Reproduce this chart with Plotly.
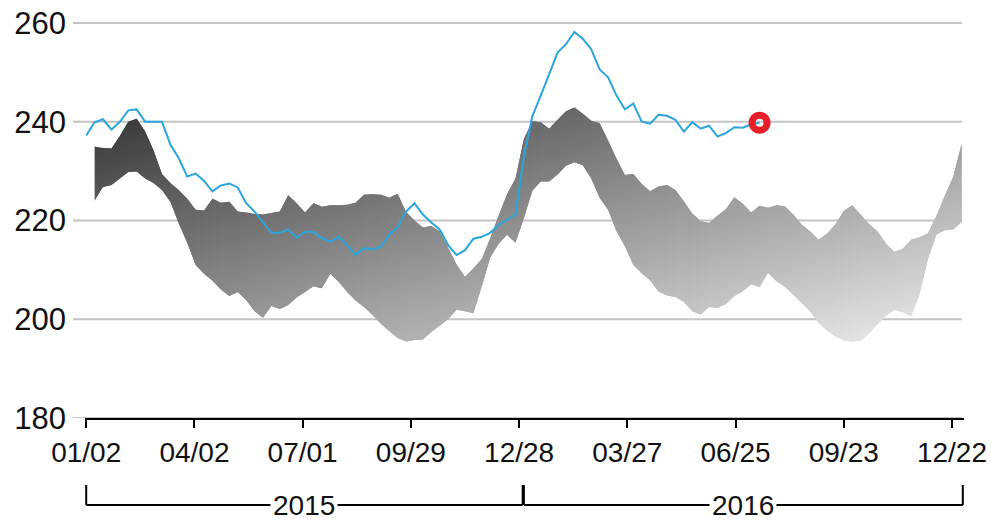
import pandas as pd
import plotly.graph_objects as go

# ---------------- data ----------------
first_week = "2015-01-02"
n_weeks = 105
week_dates = pd.date_range(first_week, periods=n_weeks, freq="7D")

# blue line: weekly values, weeks 0..80 (last one is highlighted)
blue_values = [237.2, 239.9, 240.5, 238.4, 240.0, 242.3, 242.5, 240.0, 240.0, 240.0,
               235.4, 232.6, 228.9, 229.5, 228.0, 225.9, 227.1, 227.5, 226.7, 223.5,
               221.8, 219.6, 217.5, 217.5, 218.2, 216.5, 217.7, 217.7, 216.4, 215.7,
               216.7, 215.0, 213.0, 214.4, 214.2, 214.6, 217.2, 218.6, 221.8, 223.5,
               221.2, 219.6, 218.2, 215.0, 213.0, 214.0, 216.3, 216.7, 217.5, 219.1,
               220.1, 221.2, 233.0, 241.1, 245.3, 249.5, 254.0, 255.7, 258.2, 256.8,
               254.7, 250.6, 249.0, 245.3, 242.5, 243.7, 240.0, 239.6, 241.4, 241.2,
               240.4, 238.0, 239.9, 238.6, 239.2, 237.0, 237.7, 238.9, 238.8, 239.5,
               239.8]

# grey range band: weeks 1..104
band_upper = [235.0, 234.7, 234.6, 237.1, 240.0, 240.6, 238.0, 234.2, 229.4, 227.6,
              226.1, 224.4, 222.2, 222.0, 224.4, 223.6, 223.8, 221.8, 221.6, 221.3,
              221.2, 221.5, 221.8, 225.1, 223.5, 221.6, 223.5, 222.8, 223.1, 223.1,
              223.2, 223.6, 225.2, 225.3, 225.2, 224.6, 225.4, 221.7, 220.0, 218.6,
              218.9, 217.8, 214.5, 211.1, 208.6, 210.3, 212.2, 216.4, 221.0, 225.3,
              228.5, 236.5, 240.1, 239.9, 238.6, 240.4, 242.1, 242.9, 241.6, 240.2,
              239.7, 236.2, 232.5, 229.2, 229.4, 227.4, 225.9, 226.9, 227.2, 226.2,
              223.9, 221.4, 219.9, 219.5, 221.0, 222.3, 224.7, 223.4, 221.6, 223.0,
              222.6, 223.1, 222.9, 221.2, 219.2, 217.8, 216.1, 217.3, 219.2, 221.9,
              223.1, 221.2, 219.3, 217.8, 215.4, 213.6, 214.3, 216.1, 216.6, 217.4,
              220.9, 225.0, 228.8, 235.5]
band_lower = [224.0, 226.8, 227.2, 228.5, 229.8, 229.9, 228.5, 227.6, 226.2, 223.8,
              219.4, 215.5, 211.0, 209.2, 207.8, 206.0, 204.7, 205.5, 203.9, 201.6,
              200.3, 202.7, 202.1, 202.9, 204.4, 205.5, 206.7, 206.3, 209.2, 207.6,
              205.5, 203.8, 202.5, 200.9, 199.1, 197.6, 196.2, 195.5, 195.8, 195.9,
              197.4, 198.7, 200.0, 201.9, 201.6, 201.2, 206.7, 212.5, 215.3, 217.1,
              215.5, 220.5, 226.0, 227.9, 227.9, 229.3, 231.1, 231.8, 231.2, 228.5,
              224.6, 222.2, 217.8, 214.8, 211.0, 209.3, 207.9, 205.6, 204.8, 204.5,
              203.5, 201.6, 200.9, 202.5, 202.3, 203.1, 204.7, 205.6, 207.1, 206.5,
              209.4, 207.7, 206.6, 205.0, 203.3, 201.6, 199.3, 197.7, 196.5, 195.7,
              195.5, 195.6, 197.1, 199.0, 200.6, 201.9, 201.4, 200.6, 205.0, 212.2,
              217.1, 218.0, 218.2, 219.7]

x_tick_dates = ["2015-01-02", "2015-04-02", "2015-07-01", "2015-09-29", "2015-12-28",
                "2016-03-27", "2016-06-25", "2016-09-23", "2016-12-22"]
x_tick_labels = ["01/02", "04/02", "07/01", "09/29", "12/28",
                 "03/27", "06/25", "09/23", "12/22"]
y_ticks = [180, 200, 220, 240, 260]

years = ["2015", "2016"]
year_start = ["2015-01-02", "2016-01-01"]
year_end = ["2015-12-31", "2016-12-31"]

# ---------------- styling ----------------
FONT = "Liberation Sans, Arial, sans-serif"
TXT = "#111111"
BLUE = "#2aa5de"
RED = "#e61e28"
GRID = "#c4c4c4"
G_DARK, G_LIGHT = 51, 238

blue_dates = week_dates[:len(blue_values)]
band_dates = week_dates[1:1 + len(band_upper)]

fig = go.Figure()

# gradient band: diagonal dark-to-light, built from overlapping slices
ytop, ybot = max(band_upper), min(band_lower)
d0, d1 = band_dates[0], band_dates[-1]
span = (d1 - d0).total_seconds()


def grey(t):
    t = min(max(t, 0.0), 1.0)
    v = int(round(G_DARK + (G_LIGHT - G_DARK) * t))
    return f"rgb({v},{v},{v})"


n = len(band_dates)
for i in range(n - 1):
    j = min(i + 2, n - 1)
    xs = list(band_dates[i:j + 1]) + list(band_dates[i:j + 1])[::-1]
    ys = band_upper[i:j + 1] + band_lower[i:j + 1][::-1]
    mid = band_dates[i] + (band_dates[i + 1] - band_dates[i]) / 2
    fx = (mid - d0).total_seconds() / span
    fig.add_trace(go.Scatter(
        x=xs, y=ys, mode="none", fill="toself",
        fillgradient=dict(type="vertical", start=ytop, stop=ybot,
                          colorscale=[[0, grey(fx / 2)], [1, grey(fx / 2 + 0.5)]]),
        hoverinfo="skip", showlegend=False))

fig.add_trace(go.Scatter(x=blue_dates, y=blue_values, mode="lines",
                         line=dict(color=BLUE, width=2), showlegend=False))
fig.add_trace(go.Scatter(x=[blue_dates[-1]], y=[blue_values[-1]], mode="markers",
                         marker=dict(symbol="circle-open", size=15, color=RED,
                                     line=dict(width=7, color=RED)),
                         showlegend=False))

# gridlines (extend a little left of the axis, like the original)
for v in y_ticks:
    fig.add_shape(type="line", xref="paper", yref="y", x0=-0.0137, x1=0.9977,
                  y0=v, y1=v, line=dict(color=GRID, width=2), layer="below")

# year brackets below the axis
Y_LINE, Y_TOP = -0.2197, -0.1692
for name, s, e in zip(years, year_start, year_end):
    fig.add_shape(type="line", xref="x", yref="paper", x0=s, x1=e, y0=Y_LINE, y1=Y_LINE,
                  line=dict(color="black", width=2))
    for d in (s, e):
        fig.add_shape(type="line", xref="x", yref="paper", x0=d, x1=d, y0=Y_TOP, y1=Y_LINE,
                      line=dict(color="black", width=2))
    mid = pd.Timestamp(s) + (pd.Timestamp(e) - pd.Timestamp(s)) / 2
    fig.add_annotation(x=mid, y=Y_LINE, xref="x", yref="paper", text=name, showarrow=False,
                       font=dict(size=28, color=TXT, family=FONT), bgcolor="white",
                       borderpad=2, yanchor="middle", xanchor="center")

fig.update_layout(
    width=991, height=522,
    margin=dict(l=85, r=27, t=22, b=104),
    paper_bgcolor="white", plot_bgcolor="white", showlegend=False,
    font=dict(family=FONT, color=TXT),
    xaxis=dict(type="date", range=["2015-01-01", "2017-01-01"], automargin=False,
               tickvals=x_tick_dates, ticktext=x_tick_labels,
               showgrid=False, zeroline=False, showline=True, linecolor="black", linewidth=2,
               ticks="outside", ticklen=8, tickwidth=2, tickcolor="black",
               tickfont=dict(size=28, color=TXT, family=FONT)),
    yaxis=dict(range=[180, 260.2], tickvals=y_ticks, ticktext=[str(v) for v in y_ticks],
               automargin=False,
               showgrid=False, zeroline=False, showline=False, ticks="",
               ticklabelstandoff=18,
               tickfont=dict(size=31, color=TXT, family=FONT)),
)

fig.write_html("out.html", config={"displayModeBar": False},
               post_script="document.body.style.margin='0';")
